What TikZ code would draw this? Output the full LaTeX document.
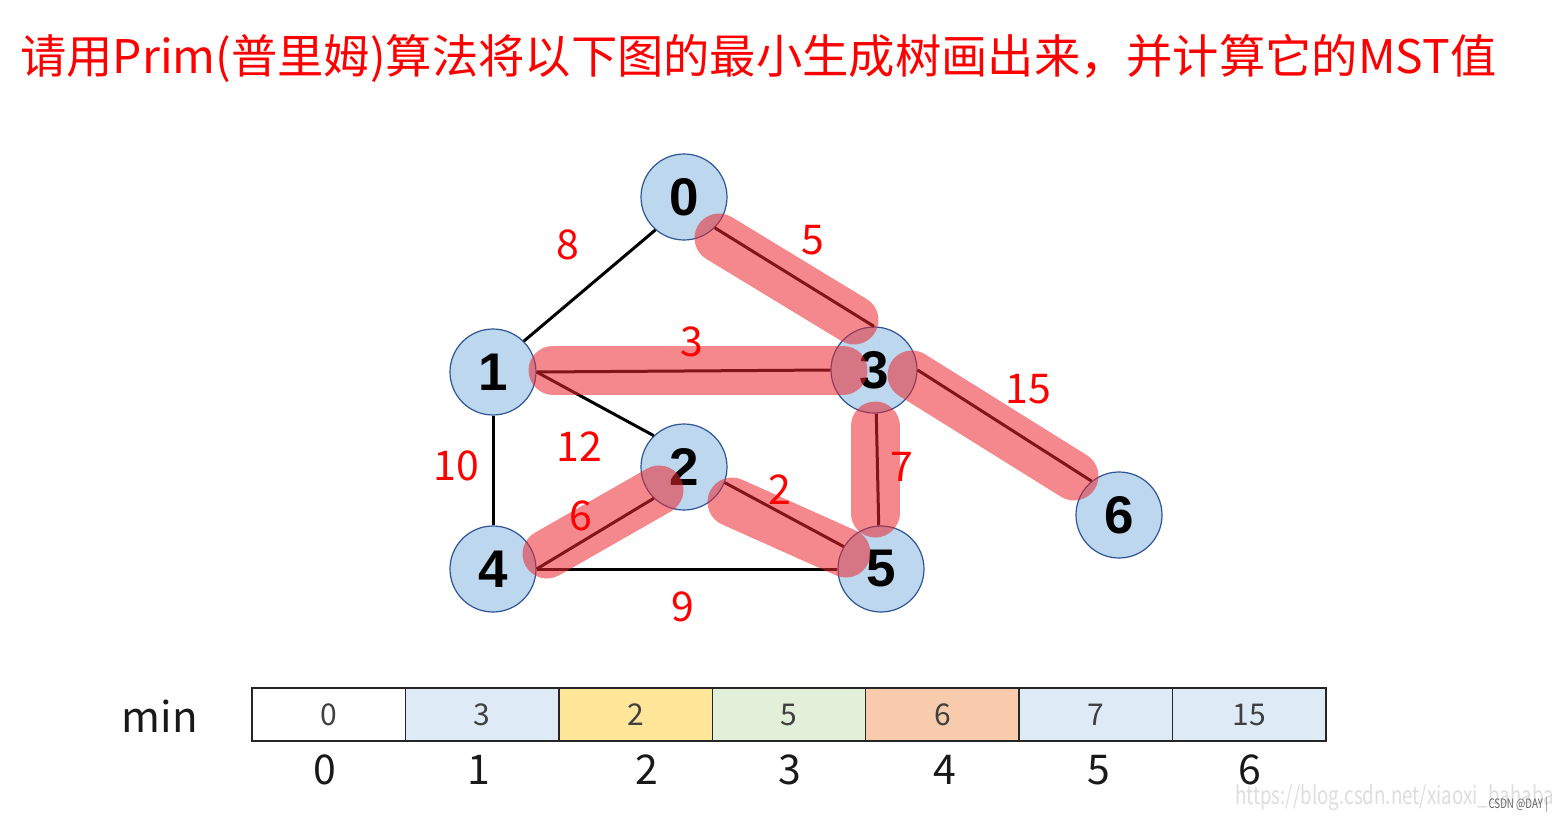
\documentclass[tikz,border=0pt]{standalone}
\usepackage{fontspec}
\setmainfont{Noto Sans CJK SC}
\newfontfamily\cjk{Noto Sans CJK SC}
\newfontfamily\cond[FakeStretch=0.75]{Noto Sans CJK SC}
\newfontfamily\nodefont{Liberation Sans}
\usetikzlibrary{calc}
\definecolor{nodefill}{RGB}{189,215,238}
\definecolor{nodeborder}{RGB}{47,85,151}
\definecolor{hl}{RGB}{235,39,46}
\definecolor{cblue}{RGB}{222,235,247}
\definecolor{cyellow}{RGB}{255,230,153}
\definecolor{cgreen}{RGB}{226,240,217}
\definecolor{corange}{RGB}{248,203,173}
\definecolor{wmgray}{RGB}{222,222,222}
\begin{document}
\begin{tikzpicture}[x=1pt,y=-1pt,
 vertex/.style={circle,draw=nodeborder,line width=1.2pt,fill=nodefill,minimum size=86pt,inner sep=0pt,font=\nodefont\bfseries\fontsize{53}{53}\selectfont},
 edge/.style={line width=3pt,draw=black},
 hilite/.style={line width=49pt,line cap=round,draw=hl,opacity=0.55},
 wlabel/.style={text=red,font=\cjk\fontsize{41}{41}\selectfont,inner sep=0pt},
 cell/.style={draw=black!85,line width=1.5pt,minimum width=153.43pt,minimum height=53pt,inner sep=0pt,font=\cjk\fontsize{30}{30}\selectfont,text=black!75},
 idx/.style={font=\cjk\fontsize{41}{41}\selectfont,inner sep=0pt,text=black!90}
]
\useasboundingbox[fill=white] (0,0) rectangle (1560,819);

% title
\node[anchor=base west,inner sep=0pt,text=red,font=\cjk\fontsize{46.3}{46.3}\selectfont] (title) at (20,73) {请用Prim(普里姆)算法将以下图的最小生成树画出来，并计算它的MST值};

% vertices
\node[vertex] (n0) at (684,197) {0};
\node[vertex] (n1) at (493,372) {1};
\node[vertex] (n2) at (684,467) {2};
\node[vertex] (n3) at (874,370) {3};
\node[vertex] (n4) at (493,569) {4};
\node[vertex] (n5) at (881,569) {5};
\node[vertex] (n6) at (1119,515) {6};

% edges
\draw[edge] (n0.229) -- (n1.45);
\draw[edge] (n0.-45) -- (n3.north);
\draw[edge] (n1.east) -- (n3.west);
\draw[edge] (n1.east) -- (n2.134);
\draw[edge] (n1.south) -- (n4.north);
\draw[edge] (n4.east) -- (n5.west);
\draw[edge] (n4.east) -- (n2.226);
\draw[edge] (n2.-21) -- (n5.149);
\draw[edge] (n3.-87) -- (n5.93);
\draw[edge] (n3.east) -- (n6.129);

% MST highlights
\draw[hilite] ($(n0)+(35,41)$) -- ($(n3)+(-20,-50)$);
\draw[hilite] ($(n1)+(60,-2)$) -- ($(n3)+(-31,0)$);
\draw[hilite] ($(n3)+(38,5)$) -- ($(n6)+(-45,-39)$);
\draw[hilite] ($(n3)+(1,56)$) -- ($(n5)+(-6,-56)$);
\draw[hilite] ($(n4)+(54,-15)$) -- ($(n2)+(-25,23)$);
\draw[hilite] ($(n2)+(48,35)$) -- ($(n5)+(-35,-16)$);

% weights
\node[wlabel] (w01) at (568,245) {8};
\node[wlabel] (w03) at (813,240) {5};
\node[wlabel] (w13) at (692,342) {3};
\node[wlabel] (w36) at (1028,389) {15};
\node[wlabel] (w12) at (579,447) {12};
\node[wlabel] (w14) at (456,466) {10};
\node[wlabel] (w35) at (902,467) {7};
\node[wlabel] (w25) at (780,490) {2};
\node[wlabel] (w24) at (581,516) {6};
\node[wlabel] (w45) at (683,607) {9};

% min table
\node[font=\cjk\fontsize{42}{42}\selectfont,inner sep=0pt,text=black!90] (minlabel) at (160,716) {min};
\node[cell,fill=white]   (c0) at (328.7,714.5) {0};
\node[cell,fill=cblue]   (c1) at (482.1,714.5) {3};
\node[cell,fill=cyellow] (c2) at (635.6,714.5) {2};
\node[cell,fill=cgreen]  (c3) at (789.0,714.5) {5};
\node[cell,fill=corange] (c4) at (942.4,714.5) {6};
\node[cell,fill=cblue]   (c5) at (1095.9,714.5) {7};
\node[cell,fill=cblue]   (c6) at (1249.3,714.5) {15};

\node[idx] (i0) at (325,770) {0};
\node[idx] (i1) at (479,770) {1};
\node[idx] (i2) at (647,770) {2};
\node[idx] (i3) at (790,770) {3};
\node[idx] (i4) at (945,770) {4};
\node[idx] (i5) at (1099,770) {5};
\node[idx] (i6) at (1250,770) {6};

% watermark
\node[anchor=west,inner sep=0pt,text=wmgray,font=\cond\fontsize{25}{25}\selectfont] (wm) at (1235,798) {https://blog.csdn.net/xiaoxi\_bahaba};
\node[anchor=east,inner sep=0pt,text=black!60,font=\cond\fontsize{13}{13}\selectfont] (csdn) at (1548,805) {CSDN @DAY |};
\end{tikzpicture}
\end{document}
